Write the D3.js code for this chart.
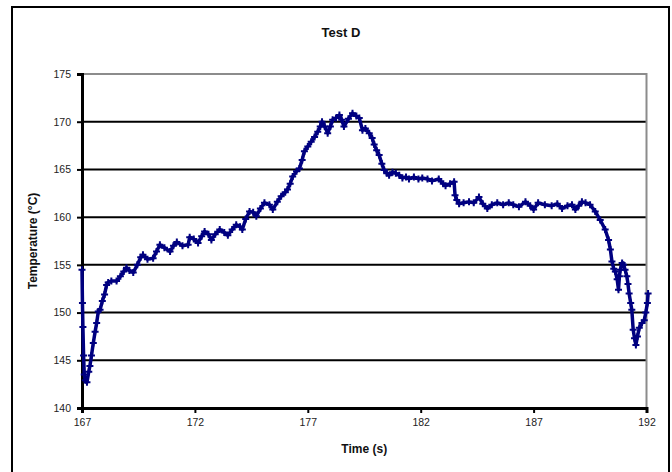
<!DOCTYPE html>
<html>
<head>
<meta charset="utf-8">
<script src="https://cdn.jsdelivr.net/npm/d3@7"></script>
<style>
  body { margin: 0; background: #fff; }
  svg { display: block; font-family: "Liberation Sans", Arial, sans-serif; }
</style>
</head>
<body>
<div id="chart"></div>
<script>
// Test D - temperature vs time
const times = [
  167.00, 167.02, 167.04, 167.07, 167.10, 167.15, 167.22, 167.30, 167.35, 167.42,
  167.50, 167.58, 167.65, 167.72, 167.80, 167.90, 168.00, 168.09, 168.16, 168.30,
  168.53, 168.70, 168.85, 168.97, 169.10, 169.27, 169.45, 169.60, 169.70, 169.90,
  170.15, 170.30, 170.45, 170.65, 170.90, 171.05, 171.20, 171.45, 171.70, 171.77,
  171.95, 172.14, 172.30, 172.43, 172.60, 172.73, 172.90, 173.10, 173.30, 173.46,
  173.65, 173.83, 174.00, 174.10, 174.25, 174.42, 174.58, 174.72, 174.90, 175.08,
  175.30, 175.45, 175.65, 175.82, 176.00, 176.10, 176.22, 176.33, 176.50, 176.63,
  176.75, 176.85, 177.00, 177.15, 177.30, 177.44, 177.55, 177.63, 177.75, 177.88,
  178.00, 178.10, 178.25, 178.40, 178.50, 178.60, 178.80, 178.98, 179.15, 179.28,
  179.42, 179.55, 179.72, 179.85, 179.94, 180.05, 180.16, 180.28, 180.38, 180.50,
  180.60, 180.75, 180.90, 181.05, 181.19, 181.35, 181.48, 181.70, 181.90, 182.07,
  182.30, 182.50, 182.80, 183.00, 183.10, 183.30, 183.48, 183.52, 183.60, 183.70,
  183.90, 184.14, 184.35, 184.58, 184.75, 184.95, 185.15, 185.39, 185.65, 185.90,
  186.10, 186.35, 186.64, 186.85, 187.00, 187.20, 187.50, 187.80, 188.05, 188.26,
  188.50, 188.70, 188.85, 189.00, 189.14, 189.30, 189.50, 189.73, 189.95, 190.17,
  190.32, 190.40, 190.47, 190.55, 190.62, 190.70, 190.76, 190.80, 190.84, 190.92,
  190.98, 191.05, 191.13, 191.18, 191.23, 191.30, 191.35, 191.41, 191.47, 191.53,
  191.60, 191.68, 191.80, 191.90, 191.97, 192.04, 192.07
];

const temps = [
  154.5, 151.0, 148.5, 145.5, 143.5, 142.9, 142.7, 143.8, 144.4, 145.5,
  146.8, 148.0, 148.9, 150.1, 150.3, 151.2, 151.9, 152.9, 153.15, 153.3,
  153.3, 153.8, 154.3, 154.7, 154.4, 154.2, 155.0, 155.8, 156.05, 155.6,
  155.7, 156.4, 157.1, 156.8, 156.4, 157.0, 157.4, 157.0, 157.1, 157.9,
  157.7, 157.3, 158.0, 158.5, 158.2, 157.6, 158.2, 158.7, 158.4, 158.1,
  158.7, 159.2, 159.0, 158.7, 159.8, 160.6, 160.5, 160.1, 160.9, 161.5,
  161.3, 160.8, 161.6, 162.2, 162.6, 162.9, 163.5, 164.25, 164.8, 165.1,
  166.0, 166.9, 167.4, 167.9, 168.4, 168.96, 169.5, 170.0, 169.5, 168.8,
  169.5, 170.2, 170.4, 170.7, 170.2, 169.5, 170.3, 170.9, 170.6, 170.4,
  169.1, 169.3, 168.8, 168.3, 167.6, 167.0, 166.5, 165.6, 164.95, 164.6,
  164.4, 164.7, 164.6, 164.4, 164.1, 164.2, 164.0, 164.2, 164.0, 164.1,
  164.0, 163.8, 164.0, 163.5, 163.3, 163.5, 163.7, 162.3, 161.8, 161.4,
  161.5, 161.6, 161.5, 162.1, 161.4, 160.9, 161.3, 161.5, 161.3, 161.5,
  161.3, 161.1, 161.6, 161.2, 160.8, 161.5, 161.3, 161.2, 161.4, 160.9,
  161.2, 161.3, 160.8, 161.2, 161.6, 161.5, 161.3, 160.6, 159.7, 158.7,
  157.6, 156.6, 155.35, 154.6, 154.3, 153.5, 152.4, 153.8, 154.5, 155.2,
  155.0, 154.5, 153.8, 153.0, 152.0, 151.0, 150.3, 148.2, 147.3, 146.6,
  147.5, 148.4, 148.9, 149.2, 150.0, 151.0, 152.0
];

const xTicks = [167, 172, 177, 182, 187, 192];
const yTicks = [140, 145, 150, 155, 160, 165, 170, 175];

const width = 672;
const height = 472;
const margin = { top: 74, right: 24, bottom: 64, left: 82 };

const svg = d3.select('#chart').append('svg')
  .attr('width', width)
  .attr('height', height);

// outer chart frame (bottom edge runs past the picture)
svg.append('rect')
  .attr('x', 12).attr('y', 7)
  .attr('width', 657).attr('height', 480)
  .attr('fill', 'none')
  .attr('stroke', '#000')
  .attr('stroke-width', 2);

const x = d3.scaleLinear()
  .domain([167, 192])
  .range([margin.left, width - margin.right - 1.5]);

const y = d3.scaleLinear()
  .domain([140, 175])
  .range([height - margin.bottom, margin.top]);

// gridlines
svg.append('g')
  .selectAll('line')
  .data(yTicks.filter(d => d > 140 && d < 175))
  .join('line')
  .attr('x1', x(167)).attr('x2', x(192))
  .attr('y1', d => y(d)).attr('y2', d => y(d))
  .attr('stroke', '#000')
  .attr('stroke-width', 2);

// plot area border, top and right in grey
svg.append('path')
  .attr('d', `M${x(167)},${y(175)}H${x(192)}V${y(140)}`)
  .attr('fill', 'none')
  .attr('stroke', '#8c8c8c')
  .attr('stroke-width', 2);

// axes
const xAxis = d3.axisBottom(x)
  .tickValues(xTicks)
  .tickSize(5)
  .tickPadding(6)
  .tickFormat(d3.format('d'));

const yAxis = d3.axisLeft(y)
  .tickValues(yTicks)
  .tickSize(5)
  .tickPadding(6)
  .tickFormat(d3.format('d'));

const gx = svg.append('g')
  .attr('transform', `translate(0,${y(140)})`)
  .call(xAxis);

const gy = svg.append('g')
  .attr('transform', `translate(${x(167)},0)`)
  .call(yAxis);

[gx, gy].forEach(g => {
  g.select('.domain').attr('stroke', '#000').attr('stroke-width', 3);
  g.selectAll('.tick line').attr('stroke', '#000').attr('stroke-width', 2);
  g.selectAll('.tick text')
    .attr('fill', '#222')
    .style('font-size', '10.5px')
    .style('font-family', '"Liberation Sans", Arial, sans-serif');
});

// series
const points = times.map((t, i) => ({ t: t, v: temps[i] }));

const line = d3.line()
  .x(d => x(d.t))
  .y(d => y(d.v));

svg.append('path')
  .datum(points)
  .attr('d', line)
  .attr('fill', 'none')
  .attr('stroke', '#000080')
  .attr('stroke-width', 3.5)
  .attr('stroke-linejoin', 'round');

// plus markers
svg.append('g')
  .selectAll('path')
  .data(points)
  .join('path')
  .attr('d', d => {
    const px = x(d.t), py = y(d.v);
    return `M${px - 3.5},${py}H${px + 3.5}M${px},${py - 3.5}V${py + 3.5}`;
  })
  .attr('stroke', '#000080')
  .attr('stroke-width', 2);

// titles
svg.append('text')
  .attr('x', 341).attr('y', 37)
  .attr('text-anchor', 'middle')
  .style('font-size', '13px')
  .style('font-weight', 'bold')
  .attr('fill', '#111')
  .text('Test D');

svg.append('text')
  .attr('x', (x(167) + x(192)) / 2).attr('y', 453)
  .attr('text-anchor', 'middle')
  .style('font-size', '12px')
  .style('font-weight', 'bold')
  .attr('fill', '#111')
  .text('Time (s)');

svg.append('text')
  .attr('transform', `translate(37,${(y(140) + y(175)) / 2}) rotate(-90)`)
  .attr('text-anchor', 'middle')
  .style('font-size', '12px')
  .style('font-weight', 'bold')
  .attr('fill', '#111')
  .text('Temperature (°C)');
</script>
</body>
</html>
